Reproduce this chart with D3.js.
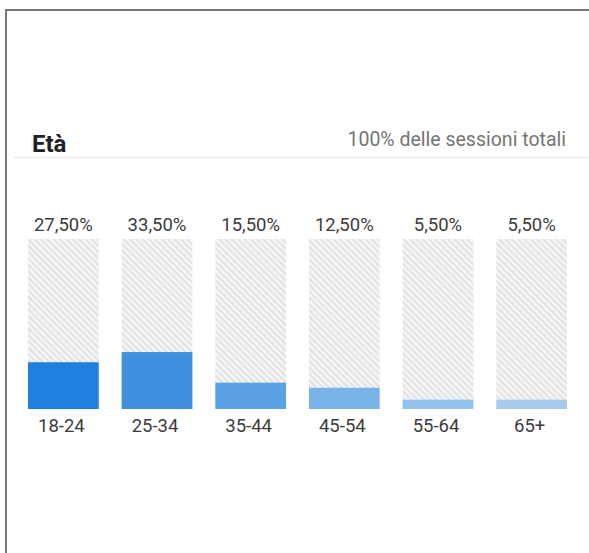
<!DOCTYPE html>
<html>
<head>
<meta charset="utf-8">
<script src="https://cdn.jsdelivr.net/npm/d3@7"></script>
<style>
  body { margin: 0; background: #fff; }
  svg { display: block; font-family: Roboto, "Noto Sans", sans-serif; }
</style>
</head>
<body>
<div id="chart"></div>
<script>
// fasce d'età e percentuali delle sessioni
const ageGroups = ["18-24", "25-34", "35-44", "45-54", "55-64", "65+"];
const sessionShare = [27.5, 33.5, 15.5, 12.5, 5.5, 5.5];
const shareLabels = ["27,50%", "33,50%", "15,50%", "12,50%", "5,50%", "5,50%"];
const barColors = ["#1f80e0", "#3f90df", "#5ba1e6", "#7ab3ea", "#94c1ee", "#a8cbec"];

const svgWidth = 589;
const svgHeight = 553;

const svg = d3.select("#chart")
    .append("svg")
    .attr("width", svgWidth)
    .attr("height", svgHeight);

// hatch pattern for the empty part of each column
const defs = svg.append("defs");
const pat = defs.append("pattern")
    .attr("id", "hatch")
    .attr("patternUnits", "userSpaceOnUse")
    .attr("width", 4.5)
    .attr("height", 4.5)
    .attr("patternTransform", "rotate(45)");
pat.append("rect").attr("width", 4.5).attr("height", 4.5).attr("fill", "#f4f4f4");
pat.append("rect").attr("width", 4.5).attr("height", 1.5).attr("fill", "#dddddd");

// frame (top and left edges only)
svg.append("line").attr("x1", 5).attr("x2", svgWidth).attr("y1", 10).attr("y2", 10)
    .attr("stroke", "#777").attr("stroke-width", 2);
svg.append("line").attr("x1", 6).attr("x2", 6).attr("y1", 9).attr("y2", svgHeight)
    .attr("stroke", "#777").attr("stroke-width", 2);

// header
svg.append("text")
    .attr("x", 32).attr("y", 152)
    .attr("font-size", 24).attr("font-weight", 700).attr("fill", "#202124")
    .text("Età");
svg.append("text")
    .attr("x", 566).attr("y", 146)
    .attr("text-anchor", "end")
    .attr("font-size", 19.5).attr("fill", "#757575")
    .text("100% delle sessioni totali");
svg.append("line").attr("x1", 14).attr("x2", svgWidth).attr("y1", 157.5).attr("y2", 157.5)
    .attr("stroke", "#ececec").attr("stroke-width", 1.5);

const plotTop = 239, plotBottom = 409;

const x = d3.scaleBand().domain(ageGroups).range([28, 567]).paddingInner(0.245);
const y = d3.scaleLinear().domain([0, 100]).range([plotBottom, plotTop]);

const data = ageGroups.map((g, i) => ({
    group: g, value: sessionShare[i], label: shareLabels[i], color: barColors[i]
}));

const g = svg.append("g");

g.selectAll("rect.bg").data(data).enter().append("rect")
    .attr("class", "bg")
    .attr("x", d => x(d.group))
    .attr("y", y(100))
    .attr("width", x.bandwidth())
    .attr("height", y(0) - y(100))
    .attr("fill", "url(#hatch)");

g.selectAll("rect.val").data(data).enter().append("rect")
    .attr("class", "val")
    .attr("x", d => x(d.group))
    .attr("y", d => y(d.value))
    .attr("width", x.bandwidth())
    .attr("height", d => y(0) - y(d.value))
    .attr("fill", d => d.color);

g.selectAll("text.val").data(data).enter().append("text")
    .attr("class", "val")
    .attr("x", d => x(d.group) + x.bandwidth() / 2)
    .attr("y", 231)
    .attr("text-anchor", "middle")
    .attr("font-size", 18.5).attr("fill", "#3c3c3c")
    .text(d => d.label);

g.selectAll("text.cat").data(data).enter().append("text")
    .attr("class", "cat")
    .attr("x", d => x(d.group) + x.bandwidth() / 2 - 2)
    .attr("y", 432)
    .attr("text-anchor", "middle")
    .attr("font-size", 18.5).attr("fill", "#3c3c3c")
    .text(d => d.group);
</script>
</body>
</html>
